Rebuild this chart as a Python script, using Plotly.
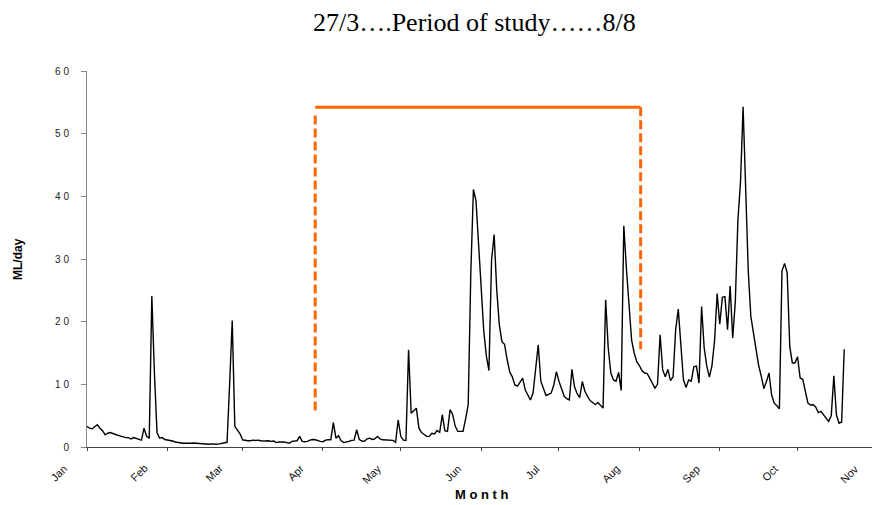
import pandas as pd
import plotly.graph_objects as go

# Daily flow record, one value per day starting 1 January (ML/day)
start_date = "2008-01-01"
axis_end = "2008-10-29 17:00"
flow_ml_per_day = [
    3.3, 3.0, 2.9, 3.2, 3.55, 3.0, 2.6, 1.95, 2.2, 2.3,
    2.1, 2.0, 1.85, 1.7, 1.6, 1.5, 1.5, 1.3, 1.5, 1.4,
    1.2, 1.1, 3.0, 1.7, 1.4, 24.1, 11.8, 2.3, 1.4, 1.5,
    1.2, 1.15, 1.0, 0.95, 0.8, 0.7, 0.65, 0.6, 0.6, 0.55,
    0.6, 0.65, 0.6, 0.55, 0.55, 0.5, 0.5, 0.45, 0.5, 0.45,
    0.45, 0.5, 0.55, 0.6, 0.75, 10.0, 20.2, 3.3, 2.7, 2.1,
    1.15, 1.05, 1.0, 1.0, 1.1, 1.05, 1.1, 1.0, 0.95, 0.95,
    1.0, 0.9, 0.95, 0.7, 0.8, 0.85, 0.8, 0.7, 0.6, 0.9,
    0.95, 1.0, 1.7, 0.9, 0.85, 0.9, 1.1, 1.2, 1.15, 1.0,
    0.9, 0.85, 1.1, 1.15, 1.15, 3.9, 1.4, 1.8, 1.0, 0.7,
    0.75, 0.9, 1.05, 1.1, 2.75, 1.2, 0.95, 0.9, 1.3, 1.4,
    1.2, 1.3, 1.7, 1.3, 1.15, 1.1, 1.1, 1.05, 1.05, 0.75,
    4.35, 1.7, 1.1, 1.05, 15.5, 5.4, 5.8, 6.2, 3.0, 2.3,
    2.0, 1.7, 1.7, 2.2, 2.1, 2.65, 2.35, 5.15, 2.6, 2.5,
    5.95, 5.2, 3.3, 2.5, 2.5, 2.5, 4.5, 6.75, 27.7, 41.1,
    39.3, 32.0, 24.0, 18.5, 14.5, 12.2, 29.8, 33.9, 25.1, 19.5,
    16.8, 16.4, 14.0, 12.0, 11.2, 9.9, 9.7, 10.3, 11.0, 9.1,
    8.3, 7.5, 8.6, 12.0, 16.3, 10.5, 9.2, 8.2, 8.4, 8.6,
    9.9, 12.0, 10.5, 9.3, 8.1, 7.7, 7.5, 12.4, 9.6, 8.5,
    7.9, 10.45, 8.9, 8.1, 7.4, 7.1, 6.75, 7.1, 6.6, 6.2,
    23.5, 15.8, 11.8, 10.7, 10.5, 11.9, 9.0, 35.3, 28.5, 21.9,
    17.1, 15.0, 13.6, 13.0, 12.2, 11.8, 11.7, 11.0, 10.2, 9.4,
    10.0, 17.9, 12.3, 11.2, 12.4, 10.6, 11.2, 18.7, 22.0, 15.5,
    10.7, 9.5, 10.7, 10.5, 12.8, 12.9, 10.2, 22.4, 15.8, 12.9,
    11.15, 13.0, 17.0, 24.5, 19.6, 23.9, 24.0, 18.7, 25.7, 17.4,
    23.2, 36.2, 42.3, 54.3, 42.3, 28.0, 20.8, 18.2, 16.0, 13.0,
    11.3, 9.3, 10.45, 11.8, 8.3, 7.0, 6.6, 6.1, 28.1, 29.3,
    27.8, 16.0, 13.4, 13.4, 14.4, 11.0, 10.8, 8.6, 7.0, 6.7,
    6.75, 6.4, 5.5, 5.7, 5.15, 4.6, 4.1, 5.0, 11.35, 5.1,
    3.8, 4.0, 15.6,
]

# Study-period bracket
period_start = "2008-03-29"
period_end = "2008-08-01 12:00"
bracket_level = 54.2
left_leg = [52.9, 5.6]
right_leg = [54.2, 15.6]

month_names = ["Jan", "Feb", "Mar", "Apr", "May", "Jun",
               "Jul", "Aug", "Sep", "Oct", "Nov"]
y_ticks = [0, 10, 20, 30, 40, 50, 60]
y_tick_text = ["0", "1 0", "2 0", "3 0", "4 0", "5 0", "6 0"]

ORANGE = "#FF6600"
SANS = "Liberation Sans, Arial, sans-serif"
SERIF = "Liberation Serif, Times New Roman, serif"

dates = pd.date_range(start_date, periods=len(flow_ml_per_day), freq="D")

fig = go.Figure()
fig.add_trace(go.Scatter(x=dates, y=flow_ml_per_day, mode="lines",
                         line=dict(color="black", width=1.4)))
fig.add_trace(go.Scatter(x=[period_start, period_end],
                         y=[bracket_level, bracket_level], mode="lines",
                         line=dict(color=ORANGE, width=3)))
fig.add_trace(go.Scatter(x=[period_start, period_start], y=left_leg,
                         mode="lines",
                         line=dict(color=ORANGE, width=3, dash="9px,4px")))
fig.add_trace(go.Scatter(x=[period_end, period_end], y=right_leg,
                         mode="lines",
                         line=dict(color=ORANGE, width=3, dash="9px,4px")))

# Month labels, slanted and set just left of each month tick
t0 = pd.Timestamp(start_date)
t1 = pd.Timestamp(axis_end)
month_starts = pd.date_range(start_date, periods=len(month_names), freq="MS")
annotations = []
for name, m in zip(month_names, month_starts):
    frac = (m - t0) / (t1 - t0)
    annotations.append(dict(
        text=name, xref="paper", yref="paper", x=frac, y=0,
        xanchor="right", yanchor="top", xshift=-16, yshift=-14,
        textangle=-45, showarrow=False, borderpad=0,
        font=dict(family=SANS, size=11, color="#111")))

annotations.append(dict(
    text="<b>ML/day</b>", xref="paper", yref="paper", x=0, y=0.5,
    xshift=-69, xanchor="center", yanchor="middle", textangle=-90,
    showarrow=False,
    font=dict(family=SANS, size=12, color="black")))
annotations.append(dict(
    text="<b>M o n t h</b>", xref="paper", yref="paper", x=0.502, y=0,
    yshift=-47.5, xanchor="center", yanchor="middle", showarrow=False,
    font=dict(family=SANS, size=13, color="black")))

fig.update_layout(
    width=872, height=505,
    margin=dict(l=87, r=0, t=71, b=58),
    paper_bgcolor="white", plot_bgcolor="white",
    showlegend=False,
    title=dict(text="27/3….Period of study……8/8",
               xref="container", x=0.544, xanchor="center",
               yref="container", y=1 - 22 / 505, yanchor="middle",
               font=dict(family=SERIF, size=26, color="black")),
    xaxis=dict(type="date", range=[start_date, axis_end],
               tick0=start_date, dtick="M1", ticks="outside", ticklen=3,
               tickcolor="#444", showticklabels=False,
               showline=True, linecolor="#444", linewidth=1.3,
               showgrid=False, zeroline=False),
    yaxis=dict(range=[0, 60], tickvals=y_ticks, ticktext=y_tick_text,
               ticks="outside", ticklen=5, tickcolor="#888",
               showline=True, linecolor="#888", linewidth=1,
               showgrid=False, zeroline=False, ticklabelstandoff=10,
               tickfont=dict(family=SANS, size=10, color="#222")),
    annotations=annotations,
)

fig.write_html("out.html")
